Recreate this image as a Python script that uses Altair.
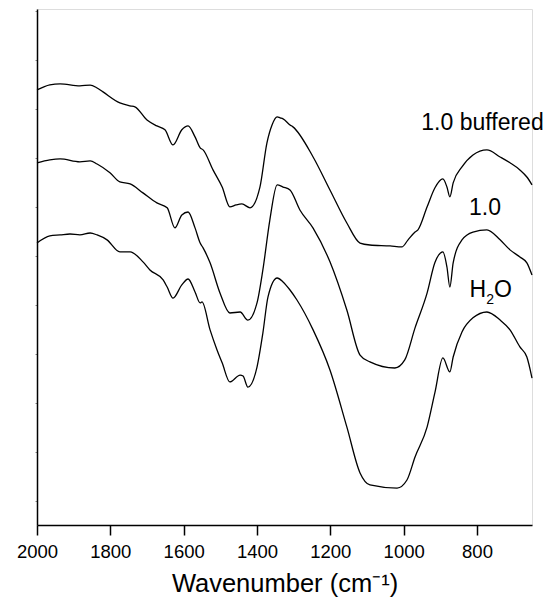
import altair as alt
import pandas as pd

FONT = "Liberation Sans"

# 1.0 buffered (top trace)
wn_buf = [2000, 1965, 1937, 1883, 1855, 1836, 1820, 1774, 1746, 1733, 1700, 1673, 1651,
          1629, 1605, 1588, 1569, 1555, 1547, 1520, 1495, 1474, 1457, 1441, 1419, 1392,
          1373, 1359, 1345, 1337, 1329, 1310, 1302, 1247, 1201, 1155, 1119, 1092, 1037,
          1005, 988, 969, 961, 936, 915, 893, 882, 874, 865, 841, 811, 773, 737, 710,
          683, 664, 650]
ab_buf = [17.79, 18.00, 18.04, 17.96, 17.99, 17.87, 17.71, 17.26, 17.14, 17.10, 16.56,
          16.32, 16.16, 15.54, 16.16, 16.32, 15.87, 15.42, 15.34, 14.52, 13.82, 13.01,
          13.09, 13.13, 12.97, 13.82, 15.62, 16.36, 16.69, 16.65, 16.61, 16.36, 16.28,
          15.05, 13.70, 12.35, 11.53, 11.45, 11.41, 11.37, 11.66, 11.98, 12.07, 13.01,
          13.78, 14.15, 13.82, 13.42, 13.99, 14.64, 15.13, 15.34, 15.05, 14.81, 14.52,
          14.23, 13.91]

# 1.0 (middle trace)
wn_one = [2000, 1965, 1937, 1883, 1855, 1836, 1801, 1774, 1746, 1711, 1673, 1645, 1624,
          1605, 1588, 1569, 1555, 1547, 1528, 1501, 1474, 1446, 1425, 1400, 1384, 1365,
          1345, 1329, 1310, 1283, 1247, 1201, 1155, 1119, 1092, 1024, 997, 969, 936,
          915, 893, 882, 874, 865, 841, 811, 773, 737, 710, 683, 664, 650]
ab_one = [14.81, 14.93, 14.97, 14.85, 14.89, 14.76, 14.40, 14.03, 13.95, 13.58, 13.17,
          12.97, 12.15, 12.68, 12.80, 12.15, 11.53, 11.33, 10.72, 9.49, 8.67, 8.71, 8.38,
          9.08, 10.43, 12.47, 13.91, 13.82, 13.70, 12.88, 12.14, 10.76, 8.79, 6.95, 6.67,
          6.42, 6.75, 8.06, 9.49, 10.72, 11.17, 10.55, 9.73, 10.72, 11.66, 11.98, 12.07,
          11.66, 11.25, 10.96, 10.72, 10.22]

# H2O (bottom trace)
wn_h2o = [2000, 1965, 1937, 1910, 1883, 1855, 1836, 1809, 1774, 1746, 1711, 1692, 1656,
          1645, 1629, 1605, 1588, 1569, 1555, 1550, 1528, 1509, 1495, 1474, 1446, 1438,
          1425, 1400, 1384, 1370, 1345, 1329, 1310, 1291, 1247, 1201, 1155, 1119, 1092,
          1018, 991, 969, 936, 915, 893, 874, 865, 841, 811, 773, 737, 710, 683, 664, 650]
ab_h2o = [11.53, 11.82, 11.86, 11.90, 11.86, 11.94, 11.86, 11.66, 11.17, 11.17, 10.76,
          10.43, 10.02, 9.73, 9.28, 9.82, 10.06, 9.53, 9.08, 9.12, 7.98, 7.16, 6.63, 5.85,
          6.13, 6.09, 5.64, 6.46, 7.85, 9.33, 10.10, 9.94, 9.61, 9.20, 7.98, 6.34, 4.01,
          2.13, 1.64, 1.51, 1.84, 2.78, 4.01, 5.40, 6.83, 6.26, 6.87, 7.89, 8.47, 8.71,
          8.38, 7.98, 7.28, 6.87, 6.01]

# curve labels (anchor position in data units)
label_text = ["1.0 buffered", "1.0"]
label_wn = [785, 778]
label_ab = [16.44, 12.97]
h2o_wn = [765]
h2o_ab = [9.61]

rows = []
for name, wns, abs_ in [("1.0 buffered", wn_buf, ab_buf),
                        ("1.0", wn_one, ab_one),
                        ("H2O", wn_h2o, ab_h2o)]:
    for w, a in zip(wns, abs_):
        rows.append({"series": name, "wn": w, "ab": a})
df = pd.DataFrame(rows)
lab_df = pd.DataFrame({"label": label_text, "wn": label_wn, "ab": label_ab})
h2o_df = pd.DataFrame({"wn": h2o_wn, "ab": h2o_ab})

x_scale = alt.Scale(domain=[2000, 650], nice=False, zero=False)
y_scale = alt.Scale(domain=[0, 21.1], nice=False, zero=False)

x_axis = alt.Axis(
    values=list(range(700, 2001, 100)),
    format="d",
    labelExpr="datum.value % 200 === 0 ? datum.label : ''",
    tickSize={"condition": {"test": "datum.value % 200 === 0", "value": 10}, "value": 5},
    tickWidth=1.5, tickColor="black",
    domainColor="black", domainWidth=1.5,
    labelFont=FONT, labelFontSize=18.5, labelColor="black", labelPadding=7,
    labelFlush=False, labelOverlap=False,
    titleFont=FONT, titleFontSize=25.5, titleFontWeight="normal", titleColor="black",
    titlePadding=11, grid=False,
)
y_axis = alt.Axis(
    values=list(range(1, 22)), labels=False, tickSize=2, tickColor="#888888",
    tickWidth=1, domainColor="black", domainWidth=1.5, grid=False, title=None,
)

lines = alt.Chart(df).mark_line(color="black", strokeWidth=1.3, interpolate="monotone").encode(
    x=alt.X("wn:Q", scale=x_scale, axis=x_axis, title="Wavenumber (cm\u207b\u00b9)"),
    y=alt.Y("ab:Q", scale=y_scale, axis=y_axis),
    detail="series:N",
)

enc = dict(x=alt.X("wn:Q", scale=x_scale), y=alt.Y("ab:Q", scale=y_scale))

labels = alt.Chart(lab_df).mark_text(font=FONT, fontSize=23, color="black").encode(
    text="label:N", **enc
)

h_txt = alt.Chart(h2o_df).mark_text(
    font=FONT, fontSize=23, color="black", align="right", dx=-3.7, text="H"
).encode(**enc)
sub_txt = alt.Chart(h2o_df).mark_text(
    font=FONT, fontSize=14, color="black", align="left", dx=-3.7, dy=10, text="2"
).encode(**enc)
o_txt = alt.Chart(h2o_df).mark_text(
    font=FONT, fontSize=23, color="black", align="left", dx=4.1, text="O"
).encode(**enc)

chart = alt.layer(lines, labels, h_txt, sub_txt, o_txt).properties(
    width=495, height=516,
    autosize=alt.AutoSizeParams(type="none"),
    padding={"left": 29, "top": 1, "right": 14, "bottom": 73},
).configure_view(stroke=None).configure(background="white")

chart.save("out.html", embed_options={"renderer": "svg", "actions": False})
